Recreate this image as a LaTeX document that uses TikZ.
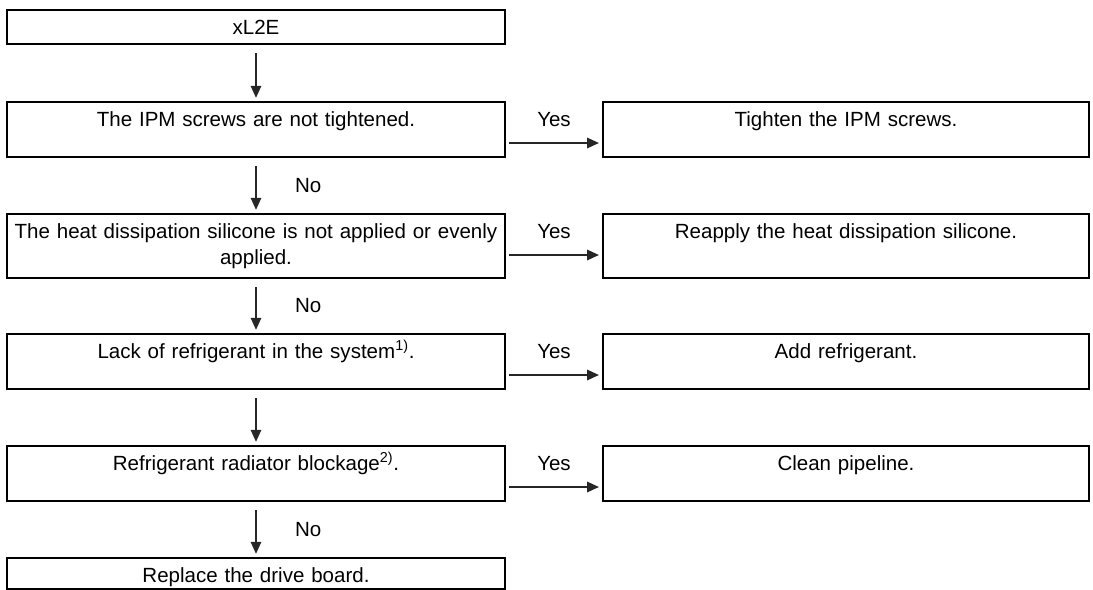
\documentclass[tikz,border=0pt]{standalone}
\usepackage{fontspec}
\setmainfont{Liberation Sans}
\usetikzlibrary{arrows.meta,calc}

\begin{document}
\begin{tikzpicture}[line width=0.05cm,>={Triangle[length=0.3cm,width=0.26cm]},
  font=\fontsize{14.6pt}{18.5pt}\selectfont]
\tikzset{
  box/.style={draw,anchor=north,inner xsep=0.1cm,inner ysep=0pt,align=center,
    text height=0.6cm,text depth=0.775cm},
  qbox/.style={box,text width=12.25cm},
  abox/.style={box,text width=11.95cm},
  flow/.style={draw=black!85,line width=0.05cm,->},
  dn/.style={flow,shorten <=0.2cm,shorten >=0.08cm},
  yes/.style={flow,shorten <=0.075cm,shorten >=0.075cm},
  lbl/.style={inner sep=0pt}}
\useasboundingbox (0,0) rectangle (27.325,-14.75);
% ---------- checks (left column) ----------
\node[qbox,text depth=0.25cm] (q0) at (6.4,-0.225) {xL2E};
\node[qbox] (q1) at (6.4,-2.525) {The IPM screws are not tightened.};
\node[qbox,text depth=1.0cm] (q2) at (6.4,-5.325)
  {The heat dissipation silicone is not applied or evenly\\applied.};
\node[qbox] (q3) at (6.4,-8.325) {Lack of refrigerant in the system\textsuperscript{1)}.};
\node[qbox] (q4) at (6.4,-11.125) {Refrigerant radiator blockage\textsuperscript{2)}.};
\node[qbox,text depth=0.175cm] (q5) at (6.4,-13.925) {Replace the drive board.};
% ---------- remedies (right column) ----------
\node[abox] (a1) at (21.15,-2.525) {Tighten the IPM screws.};
\node[abox,text depth=1.0cm] (a2) at (21.15,-5.325) {Reapply the heat dissipation silicone.};
\node[abox] (a3) at (21.15,-8.325) {Add refrigerant.};
\node[abox] (a4) at (21.15,-11.125) {Clean pipeline.};
% ---------- downward flow ----------
\draw[dn] (q0.south) -- (q1.north);
\draw[dn] (q1.south) -- node[lbl,right=0.95cm] (n1) {No} (q2.north);
\draw[dn] (q2.south) -- node[lbl,right=0.95cm] (n2) {No} (q3.north);
\draw[dn] (q3.south) -- (q4.north);
\draw[dn] (q4.south) -- node[lbl,right=0.95cm] (n4) {No} (q5.north);
% ---------- Yes branches ----------
\foreach \i in {1,...,4}{
  \draw[yes] ([yshift=-1.05cm]q\i.north east) -- ([yshift=-1.05cm]a\i.north west);
  \node[lbl,anchor=base] (y\i) at ($(q\i.base east)!0.5!(a\i.base west)$) {Yes};}
\end{tikzpicture}
\end{document}
